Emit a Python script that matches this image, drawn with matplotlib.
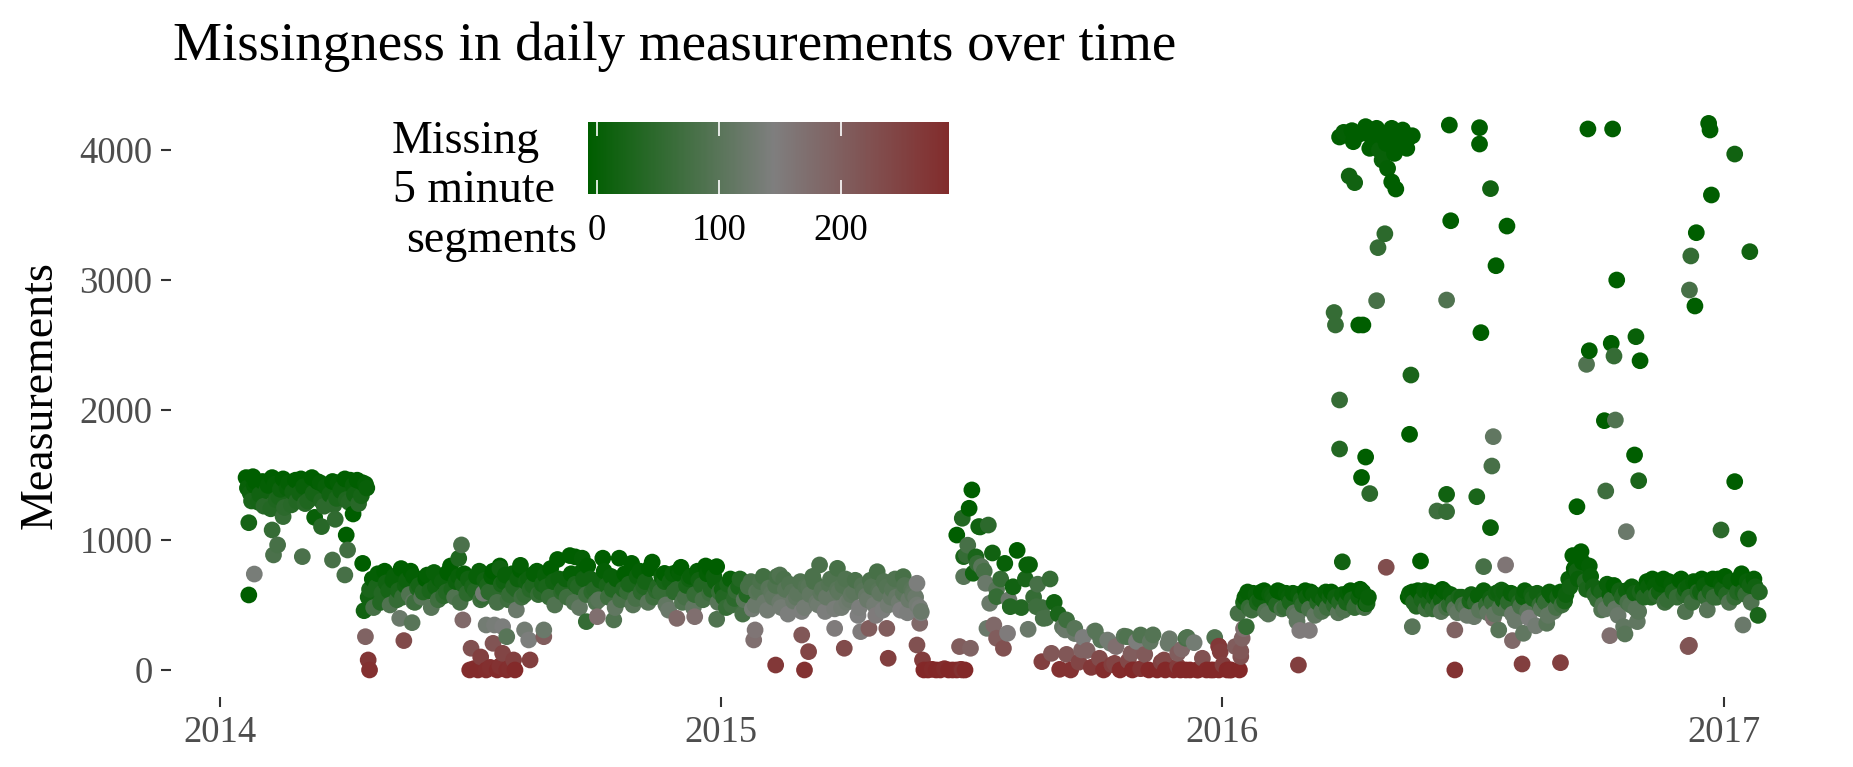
import numpy as np
import pandas as pd
import matplotlib
matplotlib.use("Agg")
import matplotlib.pyplot as plt
import matplotlib.dates as mdates
from matplotlib.colors import LinearSegmentedColormap, Normalize

plt.rcParams["font.family"] = ["Liberation Serif", "DejaVu Serif"]

# days are counted from 2014-01-01; the dense bands are read every 3rd day,
# a second reading sits one day later in the busiest stretches
BASE = pd.Timestamp("2014-01-01")
STEP = 3

period_start = [19, 108, 183, 237, 366, 513, 545, 614, 746, 866]

p1_meas = [1480, 1360, 1420, 1290, 1450, 1380, 1240, 1430, 1330, 1470, 1400, 1270, 1460, 1360, 1410,
           1300, 1480, 1350, 1440, 1260, 1400, 1450, 1320, 1380, 1470, 1290, 1420, 1460, 1340, 1430]
p1_miss = [0, 15, 5, 25, 0, 20, 40, 5, 30, 0, 10, 45, 0, 20, 10, 35, 0, 25, 5, 50, 10, 0, 30, 15, 0,
           40, 10, 0, 25, 5]
p2_meas = [560, 700, 640, 520, 760, 610, 690, 540, 780, 650, 580, 720, 630, 560, 700, 610, 750, 540,
           680, 600, 800, 560, 720, 660, 590]
p2_miss = [20, 5, 30, 40, 0, 25, 10, 60, 0, 20, 90, 5, 35, 100, 0, 30, 10, 70, 15, 40, 0, 90, 10, 30, 50]
p3_meas = [700, 610, 760, 560, 650, 720, 590, 800, 680, 540, 740, 620, 770, 580, 700, 650, 760, 600]
p3_miss = [20, 40, 10, 60, 30, 5, 50, 0, 20, 70, 10, 40, 0, 60, 15, 35, 5, 45]
p4_meas = [730, 560, 680, 850, 600, 700, 880, 520, 640, 760, 580, 700, 620, 540, 860, 650, 720, 480,
           860, 620, 600, 820, 550, 760, 640, 520, 830, 610, 600, 680, 460, 740, 620, 790, 560, 700,
           480, 760, 650, 800, 590, 720, 520]
p4_miss = [10, 60, 20, 0, 50, 15, 0, 90, 40, 5, 70, 20, 45, 100, 0, 30, 10, 110, 0, 40, 60, 0, 80, 5,
           40, 100, 0, 50, 60, 25, 120, 10, 50, 0, 80, 20, 110, 5, 40, 0, 70, 15, 100]
p5_meas = [620, 480, 700, 550, 640, 430, 580, 680, 500, 610, 720, 460, 590, 650, 520, 700, 430, 600,
           560, 680, 480, 640, 720, 520, 590, 450, 660, 560, 620, 480, 700, 540, 600, 420, 650, 570,
           690, 500, 610, 460, 640, 560, 700, 520, 590, 440, 620, 560, 480]
p5_miss = [20, 60, 10, 50, 30, 80, 40, 80, 120, 95, 75, 130, 105, 90, 120, 85, 140, 100, 110, 90, 130,
           100, 85, 120, 105, 140, 95, 115, 100, 130, 90, 120, 105, 145, 95, 115, 85, 130, 100, 140,
           95, 115, 90, 125, 105, 140, 100, 120, 135]
p6_meas = [0, 0, 5, 0, 0, 10, 0, 0, 0, 5, 0]
p6_miss = [285, 288, 282, 288, 286, 280, 288, 287, 288, 283, 286]
p7_meas = [960, 1385, 870, 1100, 760, 1115, 900, 620, 700, 820, 540, 640, 920, 480, 700, 810, 560,
           660, 480, 400, 700, 520, 430]
p7_miss = [80, 0, 30, 20, 80, 50, 20, 100, 60, 10, 120, 20, 0, 40, 30, 10, 60, 80, 70, 80, 60, 20, 30]
p8_meas = [330, 120, 0, 280, 60, 250, 150, 20, 300, 90, 0, 230, 40, 180, 0, 260, 70, 0, 220, 10,
           120, 0, 270, 0, 60, 0, 240, 0, 30, 160, 0, 0, 210, 0, 90, 0, 0, 250, 0, 40, 0, 0, 180, 0]
p8_miss = [110, 210, 270, 120, 240, 140, 190, 260, 100, 230, 280, 130, 250, 170, 283, 100, 235, 285,
           140, 268, 205, 286, 95, 287, 245, 288, 120, 286, 255, 180, 288, 287, 130, 288, 220, 286,
           288, 90, 287, 250, 288, 286, 200, 287]
p9_meas = [520, 600, 460, 580, 540, 610, 430, 570, 500, 600, 480, 560, 590, 420, 540, 610, 470, 580,
           520, 450, 600, 560, 500, 440, 580, 520, 610, 480, 560, 600, 510]
p9_miss = [30, 5, 70, 10, 20, 0, 100, 15, 40, 0, 60, 10, 5, 110, 30, 0, 80, 10, 40, 90, 5, 20, 50,
           100, 10, 30, 0, 60, 15, 5, 25]
p10_meas = [560, 600, 490, 580, 610, 520, 470, 590, 540, 600, 500,
            520, 440, 560, 480, 530, 410, 570, 460, 500, 550, 430, 600,
            540, 470, 590, 380, 520, 560, 450, 580, 340, 500, 540, 420, 570, 480, 600, 530,
            700, 880, 760, 910, 680, 800,
            640, 540, 600, 470, 580, 650, 420, 560, 610, 500, 590, 450,
            620, 680, 560, 650, 600, 700, 540, 660, 610, 690, 580, 640, 520, 670, 600, 650,
            640, 700, 560, 660, 720, 520, 680, 600, 740, 580, 650, 700, 420]
p10_miss = [0, 5, 40, 0, 10, 30, 60, 0, 20, 5, 50,
            40, 110, 20, 90, 30, 120, 10, 100, 60, 20, 110, 15,
            20, 90, 10, 120, 40, 15, 100, 20, 130, 60, 25, 110, 10, 80, 5, 30,
            10, 0, 20, 0, 40, 5,
            20, 60, 30, 110, 10, 0, 120, 40, 15, 90, 20, 100,
            10, 0, 40, 5, 20, 0, 60, 5, 30, 0, 50, 10, 70, 0, 20, 10,
            10, 0, 60, 5, 0, 90, 10, 40, 0, 60, 20, 5, 30]

# second reading, one day after each main reading
p1b_meas = [1400, 1300, 1450, 1350, 1260, 1420, 1480, 1310, 1390, 1250, 1440, 1370, 1300, 1470, 1280,
            1420, 1360, 1450, 1300, 1410, 1350, 1270, 1440, 1400, 1310, 1460, 1350, 1280, 1440, 1400]
p1b_miss = [10, 30, 0, 20, 45, 5, 0, 35, 15, 50, 5, 20, 40, 0, 45, 10, 25, 0, 35, 10, 20, 50, 5, 15,
            35, 0, 20, 45, 0, 10]
p2b_meas = [620, 480, 740, 590, 670, 500, 720, 610, 560, 690, 760, 520, 650, 600, 730, 480, 640, 700,
            570, 750, 620, 680, 520, 740, 700]
p2b_miss = [30, 80, 5, 40, 20, 90, 10, 30, 60, 15, 0, 70, 25, 40, 5, 100, 20, 10, 50, 0, 30, 15, 80, 5, 20]
p3b_meas = [640, 720, 540, 690, 600, 760, 520, 660, 730, 580, 640, 700, 560, 680, 620, 740, 580, 660]
p3b_miss = [30, 10, 70, 20, 50, 0, 80, 30, 10, 60, 40, 15, 70, 20, 45, 5, 60, 25]
p4b_meas = [640, 780, 500, 700, 620, 560, 740, 660, 480, 700, 800, 600, 520, 690, 760, 560, 620, 700,
            540, 740, 660, 500, 720, 600, 680, 780, 560, 640, 720, 500, 680, 600, 760, 520, 650, 720,
            580, 690, 540, 740, 620, 680, 600]
p4b_miss = [30, 0, 90, 15, 40, 70, 5, 30, 110, 20, 0, 50, 90, 20, 5, 70, 40, 10, 80, 0, 30, 100, 15,
            50, 25, 0, 70, 40, 10, 110, 20, 50, 0, 90, 30, 10, 60, 20, 80, 5, 40, 15, 60]
p5b_meas = [560, 660, 500, 610, 700, 540, 640, 470, 600, 680, 520, 630, 560, 720, 480, 620, 660, 530,
            590, 450, 640, 580, 680, 500, 620, 560, 700, 470, 600, 650, 520, 580, 690, 480, 610, 540,
            640, 420, 590, 680, 500, 620, 560, 460, 650, 540, 600, 500, 440]
p5b_miss = [40, 30, 70, 60, 40, 100, 80, 130, 100, 85, 120, 100, 110, 80, 130, 100, 90, 120, 105, 140,
            95, 110, 85, 125, 100, 115, 90, 135, 105, 95, 125, 110, 85, 140, 100, 120, 95, 150, 110,
            90, 130, 100, 115, 145, 95, 120, 105, 130, 140]
p9b_meas = [560, 480, 590, 520, 600, 450, 580, 540, 610, 470, 590, 520, 440, 580, 500, 560, 600, 420,
            570, 540, 480, 600, 560, 520, 460, 590, 540, 500, 610, 480, 560]
p9b_miss = [10, 60, 5, 30, 0, 90, 10, 20, 0, 80, 5, 30, 100, 10, 50, 15, 0, 110, 10, 20, 70, 0, 15,
            40, 90, 5, 25, 60, 0, 80, 10]
p10b_meas = [590, 520, 610, 540, 470, 600, 560, 500, 620, 480, 580,
             470, 560, 500, 420, 580, 520, 460, 610, 440, 520, 590, 480,
             600, 520, 430, 570, 490, 610, 400, 550, 590, 470, 520, 600, 450, 560, 500, 580,
             640, 780, 700, 830, 620, 720,
             580, 620, 500, 660, 540, 470, 610, 580, 520, 640, 470, 600,
             560, 640, 700, 580, 660, 520, 680, 600, 560, 700, 620, 560, 680, 600, 700, 560,
             600, 560, 700, 620, 580, 680, 560, 700, 600, 680, 520, 640, 600]
p10b_miss = [10, 40, 0, 30, 70, 5, 20, 50, 0, 80, 10,
             100, 30, 80, 120, 20, 50, 100, 10, 110, 60, 20, 90,
             15, 50, 120, 20, 80, 10, 140, 30, 20, 100, 60, 10, 110, 25, 70, 15,
             20, 0, 10, 0, 30, 10,
             50, 20, 90, 10, 60, 110, 20, 40, 80, 10, 100, 30,
             40, 10, 0, 50, 5, 70, 0, 30, 60, 0, 20, 50, 5, 40, 0, 60,
             30, 60, 0, 20, 40, 10, 60, 0, 30, 10, 90, 20, 40]

period_meas = [p1_meas, p2_meas, p3_meas, p4_meas, p5_meas, p6_meas, p7_meas, p8_meas, p9_meas, p10_meas]
period_miss = [p1_miss, p2_miss, p3_miss, p4_miss, p5_miss, p6_miss, p7_miss, p8_miss, p9_miss, p10_miss]
fill_meas = [p1b_meas, p2b_meas, p3b_meas, p4b_meas, p5b_meas, [], [], [], p9b_meas, p10b_meas]
fill_miss = [p1b_miss, p2b_miss, p3b_miss, p4b_miss, p5b_miss, [], [], [], p9b_miss, p10b_miss]

# single days off the main bands: (day, measurements, missing segments)
extra_2014 = [(21, 1133, 25), (21, 577, 0), (25, 738, 135), (24, 1487, 0), (38, 1077, 60), (39, 885, 85),
              (42, 962, 80), (46, 1180, 60), (60, 872, 85), (69, 1174, 10), (74, 1103, 45), (82, 846, 80),
              (84, 1159, 55), (91, 731, 80), (92, 1038, 0), (93, 923, 75), (97, 1200, 0), (104, 820, 0),
              (105, 456, 20), (106, 256, 190), (108, 77, 265), (109, 0, 275), (131, 397, 120),
              (134, 226, 230), (140, 364, 100), (141, 525, 110), (174, 859, 35), (176, 962, 85),
              (177, 385, 180), (182, 0, 280), (183, 167, 220), (185, 10, 278), (188, 0, 282),
              (190, 100, 250), (192, 590, 130), (194, 0, 280), (194, 346, 130), (197, 20, 275),
              (199, 205, 215), (200, 346, 135), (202, 0, 283), (204, 30, 270), (206, 128, 240),
              (206, 333, 140), (209, 0, 280), (209, 256, 100), (211, 15, 276), (214, 77, 250),
              (215, 0, 284), (216, 462, 120), (219, 805, 5), (222, 308, 130), (225, 231, 140),
              (226, 77, 250), (204, 780, 20), (236, 256, 200), (236, 308, 120), (259, 870, 0),
              (264, 860, 5), (275, 410, 170), (267, 372, 60), (287, 385, 90), (333, 397, 180),
              (346, 410, 170), (362, 390, 90), (357, 782, 0), (362, 795, 0), (324, 743, 0), (335, 743, 5)]
extra_2015 = [(389, 231, 170), (390, 308, 160), (405, 38, 260), (408, 731, 90), (424, 269, 210),
              (426, 0, 270), (429, 141, 240), (437, 808, 85), (448, 320, 150), (450, 782, 80),
              (455, 167, 230), (467, 295, 150), (473, 320, 200), (479, 756, 80), (486, 320, 200),
              (487, 90, 250), (498, 718, 80), (505, 577, 110), (508, 667, 140), (508, 192, 220),
              (510, 359, 180), (511, 450, 120), (512, 77, 255), (537, 1038, 0), (541, 1167, 40),
              (546, 1244, 0), (542, 872, 30), (552, 820, 60), (547, 167, 190), (544, 885, 60),
              (549, 744, 20), (542, 718, 100), (553, 1103, 20), (555, 795, 100), (558, 667, 120),
              (559, 320, 120), (561, 513, 120), (564, 346, 180), (566, 564, 60), (566, 244, 200),
              (571, 167, 220), (574, 282, 150), (576, 487, 40), (588, 808, 10), (589, 313, 120),
              (595, 487, 70), (599, 64, 250), (600, 397, 80), (606, 128, 210), (539, 180, 200),
              (541, 0, 270), (612, 5, 270), (617, 385, 70), (616, 308, 120), (623, 320, 100),
              (637, 295, 140), (642, 231, 100), (649, 205, 130), (661, 256, 90), (671, 269, 90),
              (678, 218, 110), (691, 205, 120), (704, 244, 80), (728, 180, 260), (729, 140, 255),
              (744, 103, 220), (745, 244, 190), (786, 38, 250), (700, 0, 288), (712, 0, 288),
              (724, 0, 287), (736, 0, 288), (628, 154, 190), (652, 51, 240), (664, 128, 200),
              (688, 77, 235), (698, 128, 200)]
extra_2016 = [(746, 318, 170), (744, 145, 210), (728, 183, 260), (705, 251, 90), (787, 304, 150),
              (794, 304, 150), (785, 372, 110), (742, 436, 80), (748, 333, 60), (818, 832, 20),
              (831, 621, 0), (835, 511, 0), (869, 333, 100), (900, 308, 190), (900, 0, 270),
              (942, 226, 180), (949, 46, 250), (977, 56, 250), (928, 397, 170), (1013, 264, 170),
              (1024, 277, 100), (1070, 180, 210), (1071, 190, 215), (1110, 346, 120), (967, 359, 100),
              (950, 282, 110), (932, 308, 100), (1023, 333, 110), (1033, 372, 110), (1084, 462, 100),
              (1068, 449, 90), (1007, 462, 90), (890, 449, 100), (937, 808, 160), (921, 795, 80),
              (934, 615, 20), (875, 838, 0), (850, 790, 225)]
high_days = [(812, 2750, 60), (813, 2654, 60), (816, 2077, 60), (816, 1700, 40), (827, 3749, 20),
             (830, 2654, 0), (833, 2654, 0), (832, 1481, 0), (835, 1638, 0), (838, 1357, 50),
             (843, 2841, 80), (844, 3249, 60), (849, 3356, 50), (857, 3700, 0), (867, 1813, 0),
             (868, 2269, 30), (894, 2846, 90), (896, 4192, 0), (897, 3456, 0), (918, 4172, 0),
             (918, 4046, 0), (919, 2595, 0), (926, 3703, 20), (928, 1795, 110), (930, 3110, 0),
             (938, 3415, 0), (927, 1569, 80), (894, 1351, 20), (887, 1223, 70), (894, 1218, 60),
             (916, 1333, 30), (926, 1095, 10), (997, 4162, 0), (1015, 4162, 0), (998, 2456, 0),
             (996, 2351, 90), (1009, 1918, 0), (1010, 1377, 70), (989, 1256, 0), (1014, 2513, 0),
             (1016, 2415, 60), (1017, 1923, 90), (1018, 3000, 0), (1025, 1064, 120), (1031, 1654, 0),
             (1032, 2564, 10), (1034, 1456, 30), (1035, 2379, 0), (1071, 2923, 80), (1072, 3185, 60),
             (1075, 2800, 0), (1076, 3364, 0), (1085, 4205, 0), (1086, 4154, 0), (1087, 3654, 0),
             (1094, 1077, 50), (1104, 3969, 20), (1104, 1449, 0), (1114, 1008, 10), (1115, 3218, 20),
             (819, 4136, 5), (825, 4149, 0), (826, 4064, 0), (838, 4013, 0), (838, 4115, 0),
             (843, 4167, 0), (845, 4000, 10), (847, 3923, 10), (850, 4051, 0), (851, 3859, 5),
             (854, 4167, 0), (856, 3974, 0), (857, 4128, 0), (857, 4026, 0), (862, 4154, 0),
             (865, 4013, 0), (866, 4090, 0), (823, 3800, 20), (854, 3755, 0), (816, 4100, 0),
             (830, 4120, 0), (835, 4180, 0), (860, 4060, 0), (848, 4100, 0), (841, 4080, 0),
             (869, 4110, 0)]

rows = []
for start, meas, miss, meas_b, miss_b in zip(period_start, period_meas, period_miss, fill_meas, fill_miss):
    for i, (m, s) in enumerate(zip(meas, miss)):
        rows.append((start + STEP * i, m, s))
    for i, (m, s) in enumerate(zip(meas_b, miss_b)):
        rows.append((start + 1 + STEP * i, m, s))
for group in (extra_2014, extra_2015, extra_2016, high_days):
    rows.extend(group)

df = pd.DataFrame(rows, columns=["day", "measurements", "missing"]).sort_values("day", kind="stable")
df["date"] = BASE + pd.to_timedelta(df["day"], unit="D")

cmap = LinearSegmentedColormap.from_list("miss", ["#005E00", "#7F7F7F", "#832828"])
norm = Normalize(vmin=0, vmax=288)

W, H = 1853, 767
fig = plt.figure(figsize=(W / 100, H / 100), dpi=100)
ax = fig.add_axes([170.6 / W, 1 - 697.4 / H, (1839 - 170.6) / W, (697.4 - 92.7) / H])

ax.scatter(df["date"], df["measurements"], c=df["missing"], cmap=cmap, norm=norm,
           s=145, linewidths=0)

ax.set_xlim(BASE - pd.Timedelta(days=36), BASE + pd.Timedelta(days=1180))
ax.set_ylim(-211, 4441)
ax.set_yticks([0, 1000, 2000, 3000, 4000])
ax.xaxis.set_major_locator(mdates.YearLocator())
ax.xaxis.set_major_formatter(mdates.DateFormatter("%Y"))
for sp in ax.spines.values():
    sp.set_visible(False)
ax.tick_params(axis="both", length=7, width=1.5, color="#333333", labelsize=26.4,
               labelcolor="#4D4D4D", pad=6)

fig.text(173 / W, 1 - 60 / H, "Missingness in daily measurements over time", size=39.6,
         va="baseline", ha="left")
fig.text(40 / W, 1 - 395 / H, "Measurements", size=33, rotation=90, ha="center", va="center")

# legend title, three lines as in the original
fig.text(392 / W, 1 - 153 / H, "Missing", size=33, va="baseline")
fig.text(393 / W, 1 - 202 / H, "5 minute", size=33, va="baseline")
fig.text(406 / W, 1 - 252 / H, "segments", size=33, va="baseline")

cax = fig.add_axes([588 / W, 1 - 194 / H, 360 / W, 72 / H])
grad = np.linspace(0, 280, 300).reshape(1, -1)
cax.imshow(grad, cmap=cmap, norm=norm, aspect="auto", extent=(-7.4, 287.7, 0, 1))
cax.set_xlim(-7.4, 287.7)
cax.set_ylim(0, 1)
cax.set_yticks([])
cax.set_xticks([0, 100, 200])
for sp in cax.spines.values():
    sp.set_visible(False)
cax.tick_params(axis="x", direction="in", top=True, bottom=True, color="white", length=10,
                width=1.2, labelsize=26.4, labelcolor="black", pad=14)

fig.savefig("out.png", dpi=100)
